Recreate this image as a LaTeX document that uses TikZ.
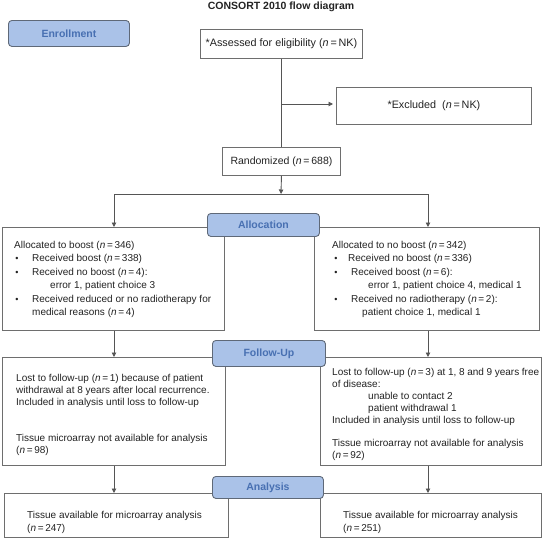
\documentclass[tikz,border=0pt]{standalone}
\usepackage{fontspec}
\setmainfont{Liberation Sans}
\usetikzlibrary{arrows.meta}
\definecolor{hdrfill}{RGB}{170,194,232}
\definecolor{hdrdraw}{RGB}{95,105,120}
\definecolor{hdrtext}{RGB}{72,112,178}
\definecolor{linegray}{RGB}{85,85,85}
\definecolor{boxgray}{RGB}{110,110,110}
\definecolor{txt}{RGB}{35,35,35}
\newcommand{\nn}[1]{(\textit{n}\,=\,#1)}
\begin{document}
\begin{tikzpicture}[x=1pt,y=-1pt,
  box/.style={draw=boxgray, line width=0.9pt, fill=white, inner sep=0pt, anchor=north west, text=txt},
  hdr/.style={draw=hdrdraw, line width=0.9pt, fill=hdrfill, rounded corners=3.5pt, inner sep=0pt, anchor=north west, text=hdrtext, font=\fontsize{10.5}{12}\selectfont\bfseries},
  ln/.style={anchor=base west, inner sep=0pt, text=txt, font=\fontsize{10}{12}\selectfont},
  bul/.style={anchor=base, inner sep=0pt, text=txt, font=\fontsize{9}{10}\selectfont},
  conn/.style={draw=linegray, line width=0.9pt},
  arr/.style={conn, -{Triangle[length=4.5pt,width=4.5pt]}}
]
\useasboundingbox (0,0) rectangle (544,538);

% title
\node[inner sep=0pt, text=txt, font=\fontsize{10.5}{12}\selectfont\bfseries] (title) at (281,7) {CONSORT 2010 flow diagram};

% enrollment boxes
\node[box, minimum width=162pt, minimum height=29pt, font=\fontsize{10.8}{12}\selectfont] (assess) at (200,29) {*Assessed for eligibility \nn{NK}};
\node[box, minimum width=195pt, minimum height=37pt, font=\fontsize{10.8}{12}\selectfont] (excl) at (336,87) {*Excluded\ \ \nn{NK}};
\node[box, minimum width=118pt, minimum height=28pt, font=\fontsize{10.5}{12}\selectfont] (rand) at (222,147) {Randomized \nn{688}};

% allocation boxes
\node[box, minimum width=222pt, minimum height=103pt] (allocL) at (2,227) {};
\node[box, minimum width=225pt, minimum height=103pt] (allocR) at (314,227) {};
% follow-up boxes
\node[box, minimum width=223pt, minimum height=108pt] (fuL) at (2,357) {};
\node[box, minimum width=221pt, minimum height=108pt] (fuR) at (320,357) {};
% analysis boxes
\node[box, minimum width=224pt, minimum height=44pt] (anL) at (4,493) {};
\node[box, minimum width=221pt, minimum height=44pt] (anR) at (320,493) {};

% connectors
\coordinate (exclbranch) at (281,104);
\coordinate (split) at (281,194);
\coordinate (splitL) at (114,194);
\coordinate (splitR) at (428,194);
\draw[conn] (assess.south -| rand.north) -- (rand.north);
\draw[arr, shorten >=3pt] (exclbranch) -- (exclbranch -| excl.west);
\draw[arr] (rand.south) -- (split);
\draw[conn] (splitL) -- (splitR);
\draw[arr] (splitL) -- (splitL |- allocL.north);
\draw[arr] (splitR) -- (splitR |- allocR.north);
\draw[arr] (splitL |- allocL.south) -- (splitL |- fuL.north);
\draw[arr] (splitR |- allocR.south) -- (splitR |- fuR.north);
\draw[arr] (splitL |- fuL.south) -- (splitL |- anL.north);
\draw[arr] (splitR |- fuR.south) -- (splitR |- anR.north);

% left allocation text
\node[ln] (la1) at (14,248) {Allocated to boost \nn{346}};
\node[bul] (lb1) at (17,261.5) {•};
\node[ln] (la2) at (32,261.5) {Received boost \nn{338}};
\node[bul] (lb2) at (17,275) {•};
\node[ln] (la3) at (32,275) {Received no boost \nn{4}:};
\node[ln] (la4) at (50,288.5) {error 1, patient choice 3};
\node[bul] (lb3) at (17,302) {•};
\node[ln] (la5) at (32,302) {Received reduced or no radiotherapy for};
\node[ln] (la6) at (32,315.5) {medical reasons \nn{4}};

% right allocation text
\node[ln] (ra1) at (332,248) {Allocated to no boost \nn{342}};
\node[bul] (rb1) at (336,261.5) {•};
\node[ln] (ra2) at (348,261.5) {Received no boost \nn{336}};
\node[bul] (rb2) at (336,275) {•};
\node[ln] (ra3) at (351,275) {Received boost \nn{6}:};
\node[ln] (ra4) at (368,288.5) {error 1, patient choice 4, medical 1};
\node[bul] (rb3) at (336,302) {•};
\node[ln] (ra5) at (351,302) {Received no radiotherapy \nn{2}:};
\node[ln] (ra6) at (362,315.5) {patient choice 1, medical 1};

% left follow-up text
\node[ln] (lf1) at (16,381) {Lost to follow-up \nn{1} because of patient};
\node[ln] (lf2) at (16,393) {withdrawal at 8 years after local recurrence.};
\node[ln] (lf3) at (16,405) {Included in analysis until loss to follow-up};
\node[ln] (lf4) at (16,441) {Tissue microarray not available for analysis};
\node[ln] (lf5) at (16,453) {\nn{98}};

% right follow-up text
\node[ln] (rf1) at (332,375) {\makebox[207pt][s]{Lost to follow-up \nn{3} at 1, 8 and 9 years free}};
\node[ln] (rf2) at (332,387) {of disease:};
\node[ln] (rf3) at (368,399) {unable to contact 2};
\node[ln] (rf4) at (368,411) {patient withdrawal 1};
\node[ln] (rf5) at (332,423) {Included in analysis until loss to follow-up};
\node[ln] (rf6) at (332,446) {Tissue microarray not available for analysis};
\node[ln] (rf7) at (332,458) {\nn{92}};

% analysis text
\node[ln] (bl1) at (27,518.5) {Tissue available for microarray analysis};
\node[ln] (bl2) at (27,531.5) {\nn{247}};
\node[ln] (br1) at (343,518.5) {Tissue available for microarray analysis};
\node[ln] (br2) at (343,531.5) {\nn{251}};

% stage headers
\node[hdr, minimum width=121pt, minimum height=26pt] (hEnrol) at (8,20) {Enrollment};
\node[hdr, minimum width=112pt, minimum height=23pt] (hAlloc) at (207,213) {Allocation};
\node[hdr, minimum width=113pt, minimum height=26pt] (hFollow) at (212,340) {Follow-Up};
\node[hdr, minimum width=111pt, minimum height=22pt] (hAnal) at (212,476) {Analysis};
\end{tikzpicture}
\end{document}
